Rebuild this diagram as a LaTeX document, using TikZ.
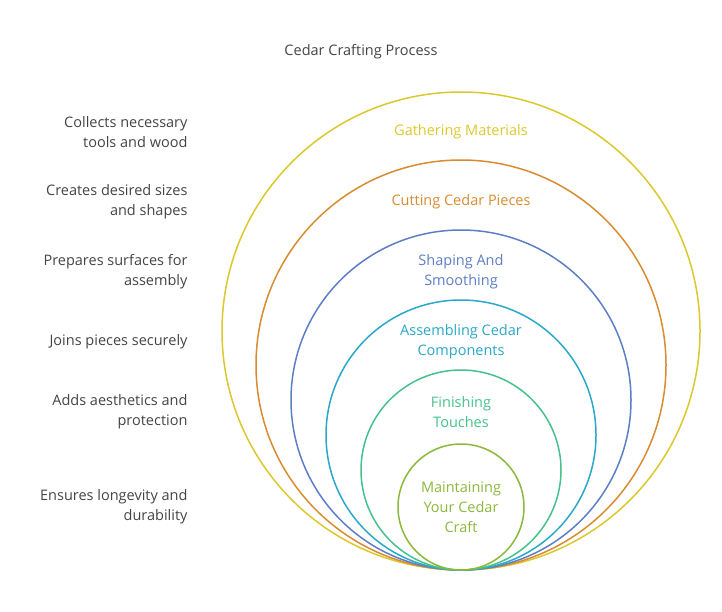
\documentclass[tikz,border=0pt]{standalone}
\usepackage{fontspec}
\setmainfont{Open Sans}
\definecolor{cyel}{HTML}{DCC82C}
\definecolor{cora}{HTML}{D98B30}
\definecolor{cblu}{HTML}{5D7EC4}
\definecolor{ctea}{HTML}{2AA7C9}
\definecolor{cgre}{HTML}{45C28C}
\definecolor{clim}{HTML}{8CB83C}
\definecolor{txt}{HTML}{444444}
\tikzset{
  ring/.style={line width=1.5pt},
  stage/.style={font=\fontsize{14.5}{20}\selectfont, align=center},
  note/.style={font=\fontsize{14.5}{20}\selectfont, align=right, text=txt, anchor=east}
}
\begin{document}
\begin{tikzpicture}[x=1pt,y=-1pt]
\useasboundingbox (0,0) rectangle (722,612);

\node[stage, text=txt] (title) at (361,52) {Cedar Crafting Process};

\draw[ring, cyel] (461,331) circle (239);
\draw[ring, cora] (461,365) circle (205);
\draw[ring, cblu] (461,400) circle (170);
\draw[ring, ctea] (461,435) circle (135);
\draw[ring, cgre] (461,470) circle (100);
\draw[ring, clim] (461,507) circle (63);

\node[stage, text=cyel] (s1) at (461,132) {Gathering Materials};
\node[stage, text=cora] (s2) at (461,202) {Cutting Cedar Pieces};
\node[stage, text=cblu] (s3) at (461,272) {Shaping And\\Smoothing};
\node[stage, text=ctea] (s4) at (461,342) {Assembling Cedar\\Components};
\node[stage, text=cgre] (s5) at (461,412) {Finishing\\Touches};
\node[stage, text=clim] (s6) at (461,507) {Maintaining\\Your Cedar\\Craft};

\node[note] (n1) at (191,132) {Collects necessary\\tools and wood};
\node[note] (n2) at (191,202) {Creates desired sizes\\and shapes};
\node[note] (n3) at (191,272) {Prepares surfaces for\\assembly};
\node[note] (n4) at (191,342) {Joins pieces securely};
\node[note] (n5) at (191,412) {Adds aesthetics and\\protection};
\node[note] (n6) at (191,507) {Ensures longevity and\\durability};

\end{tikzpicture}
\end{document}
